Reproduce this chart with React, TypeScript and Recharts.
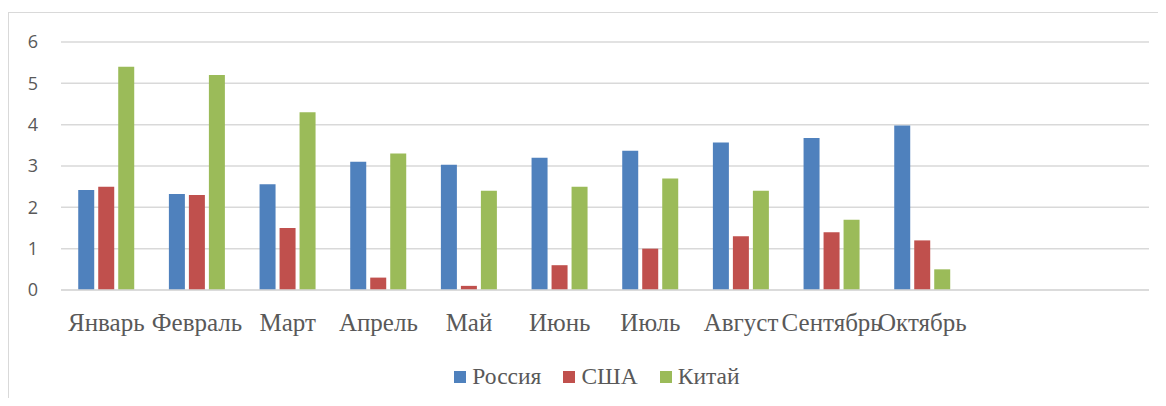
import { BarChart, Bar, XAxis, YAxis, CartesianGrid, Legend } from 'recharts';

// 12 slots on the axis, the last two months are empty
const months = ['Январь', 'Февраль', 'Март', 'Апрель', 'Май', 'Июнь', 'Июль', 'Август', 'Сентябрь', 'Октябрь', '', ' '];
const russia = [2.42, 2.32, 2.56, 3.1, 3.03, 3.2, 3.37, 3.57, 3.68, 3.98, null, null];
const usa = [2.5, 2.3, 1.5, 0.3, 0.1, 0.6, 1.0, 1.3, 1.4, 1.2, null, null];
const china = [5.4, 5.2, 4.3, 3.3, 2.4, 2.5, 2.7, 2.4, 1.7, 0.5, null, null];
const yTicks = [0, 1, 2, 3, 4, 5, 6];

const series = [
  { key: 'russia', name: 'Россия', color: '#4F81BD' },
  { key: 'usa', name: 'США', color: '#C0504D' },
  { key: 'china', name: 'Китай', color: '#9BBB59' },
];

const data = months.map((m, i) => ({ month: m, russia: russia[i], usa: usa[i], china: china[i] }));

const textColor = '#595959';
const gridColor = '#d9d9d9';

function LegendContent() {
  return (
    <div style={{ height: 36, lineHeight: '36px', textAlign: 'center', paddingLeft: 36, fontFamily: '"Liberation Serif", "Times New Roman", serif', fontSize: 23.5, color: textColor }}>
      {series.map((s) => (
        <span key={s.key} style={{ marginRight: 22, whiteSpace: 'nowrap' }}>
          <span style={{ display: 'inline-block', width: 12, height: 12, background: s.color, marginRight: 6, verticalAlign: 'middle', position: 'relative', top: -2 }} />
          {s.name}
        </span>
      ))}
    </div>
  );
}

export default function App() {
  return (
    <div style={{ marginTop: 4, width: 1150, height: 385, borderTop: `1px solid ${gridColor}`, borderLeft: `1px solid ${gridColor}` }}>
      <BarChart
        width={1149}
        height={385}
        data={data}
        margin={{ top: 29, right: 9, left: 22, bottom: 4 }}
        barCategoryGap="19%"
        barGap={4}
      >
        <CartesianGrid vertical={false} stroke={gridColor} strokeWidth={1.5} />
        <XAxis
          dataKey="month"
          interval={0}
          tickLine={false}
          tickSize={0}
          tickMargin={23}
          height={68}
          axisLine={{ stroke: gridColor, strokeWidth: 1.5 }}
          tick={{ fill: textColor, fontSize: 25, fontFamily: '"Liberation Serif", "Times New Roman", serif' }}
        />
        <YAxis
          domain={[0, 6]}
          ticks={yTicks}
          width={30}
          axisLine={false}
          tickLine={false}
          tickSize={0}
          tickMargin={23}
          tick={{ fill: textColor, fontSize: 18, fontFamily: '"Open Sans", sans-serif' }}
        />
        <Legend verticalAlign="bottom" content={<LegendContent />} />
        {series.map((s) => (
          <Bar key={s.key} dataKey={s.key} name={s.name} fill={s.color} isAnimationActive={false} />
        ))}
      </BarChart>
    </div>
  );
}
